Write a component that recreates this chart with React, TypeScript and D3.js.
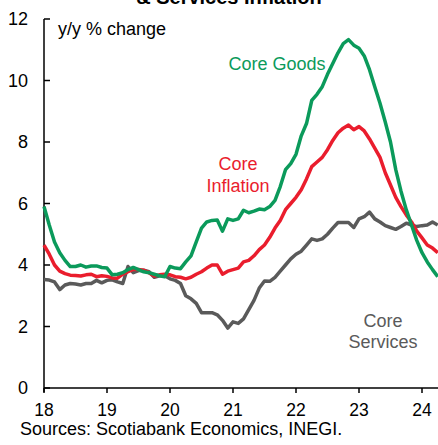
import React from "react";
import * as d3 from "d3";

const startYear = 2018;
const coreGoods = [
  5.9, 5.3, 4.75, 4.4, 4.15, 3.95, 3.95, 4.0, 3.93, 3.97, 3.97, 3.92,
  3.9, 3.68, 3.7, 3.75, 3.85, 3.92, 3.85, 3.78, 3.75, 3.7, 3.65, 3.62,
  3.95, 3.9, 3.88, 4.1, 4.3, 4.75, 5.2, 5.4, 5.45, 5.46, 5.1, 5.5,
  5.45, 5.5, 5.78, 5.7, 5.75, 5.82, 5.8, 5.9, 6.1, 6.55, 7.1, 7.3,
  7.6, 8.2, 8.6, 9.35, 9.55, 9.8, 10.2, 10.55, 10.9, 11.2, 11.33, 11.15,
  11.05, 10.8, 10.35, 9.8, 9.26, 8.65, 8.0, 7.1, 6.4, 5.8, 5.3, 4.8,
  4.4, 4.1, 3.85, 3.62,
];
const coreInflation = [
  4.65, 4.35, 4.0, 3.8, 3.72, 3.67, 3.66, 3.64, 3.68, 3.7, 3.62, 3.65,
  3.63, 3.58, 3.57, 3.7, 3.78, 3.86, 3.85, 3.83, 3.75, 3.64, 3.68, 3.7,
  3.68, 3.62, 3.6, 3.55, 3.6, 3.7, 3.78, 3.9, 4.0, 4.0, 3.7, 3.8,
  3.85, 3.9, 4.1, 4.15, 4.3, 4.5, 4.65, 4.9, 5.2, 5.45, 5.8, 6.0,
  6.2, 6.45, 6.8, 7.2, 7.35, 7.5, 7.75, 8.05, 8.3, 8.45, 8.55, 8.4,
  8.5, 8.36, 8.1, 7.8, 7.5, 7.0, 6.6, 6.2, 5.9, 5.63, 5.4, 5.1,
  4.88, 4.65, 4.55, 4.4,
];
const coreServices = [
  3.53, 3.51, 3.45, 3.2, 3.35, 3.4, 3.38, 3.35, 3.4, 3.4, 3.5, 3.42,
  3.5, 3.52, 3.45, 3.4, 3.95, 3.75, 3.82, 3.83, 3.78, 3.6, 3.65, 3.65,
  3.55, 3.5, 3.4, 3.0, 2.9, 2.75, 2.45, 2.45, 2.45, 2.38, 2.2, 1.95,
  2.15, 2.1, 2.25, 2.55, 2.85, 3.25, 3.48, 3.47, 3.6, 3.8, 4.0, 4.2,
  4.35, 4.45, 4.65, 4.85, 4.8, 4.85, 5.0, 5.2, 5.38, 5.38, 5.38, 5.22,
  5.5, 5.57, 5.72, 5.5, 5.4, 5.28, 5.22, 5.16, 5.25, 5.36, 5.3, 5.25,
  5.28, 5.3, 5.4, 5.3,
];
const yTicks = [0, 2, 4, 6, 8, 10, 12];
const xTickYears = [2018, 2019, 2020, 2021, 2022, 2023, 2024];

const FONT = "'Liberation Sans', Arial, sans-serif";

export default function App() {
  const x = d3
    .scaleLinear()
    .domain([startYear, startYear + 6])
    .range([44, 422]);
  const y = d3.scaleLinear().domain([0, 12]).range([388, 19]);

  const toPoints = (arr: number[]) =>
    arr.map((v, i) => [startYear + i / 12, v] as [number, number]);

  const line = d3
    .line<[number, number]>()
    .x((d) => x(d[0]))
    .y((d) => y(d[1]));

  const series = [
    { data: coreServices, color: "#5a5a5a" },
    { data: coreInflation, color: "#ea1d2d" },
    { data: coreGoods, color: "#0b9a5b" },
  ];

  return (
    <svg
      width={438}
      height={445}
      style={{ position: "absolute", left: 0, top: 0, background: "#fff" }}
      fontFamily={FONT}
    >
      <text
        x={229}
        y={4}
        textAnchor="middle"
        fontSize={20}
        fontWeight="bold"
        fill="#000"
      >
        & Services Inflation
      </text>

      {/* axes */}
      <line x1={44} x2={44} y1={y(12)} y2={392} stroke="#000" strokeWidth={1.5} />
      <line x1={44} x2={438} y1={y(0)} y2={y(0)} stroke="#000" strokeWidth={1.5} />
      {yTicks.map((t) => (
        <g key={t}>
          <line x1={44} x2={50} y1={y(t)} y2={y(t)} stroke="#000" strokeWidth={1.5} />
          <text x={28} y={y(t) + 6} textAnchor="end" fontSize={18} fill="#000">
            {t}
          </text>
        </g>
      ))}
      {xTickYears.map((yr) => (
        <g key={yr}>
          <line x1={x(yr)} x2={x(yr)} y1={y(0)} y2={y(0) + 5} stroke="#000" strokeWidth={1.5} />
          <text x={x(yr)} y={416} textAnchor="middle" fontSize={17.5} fill="#000">
            {String(yr).slice(2)}
          </text>
        </g>
      ))}

      {series.map((s, i) => (
        <path
          key={i}
          d={line(toPoints(s.data)) || ""}
          fill="none"
          stroke={s.color}
          strokeWidth={3.5}
          strokeLinejoin="round"
        />
      ))}

      <text x={58} y={35} fontSize={18} fill="#000">
        y/y % change
      </text>
      <text x={277} y={70} textAnchor="middle" fontSize={18} fill="#0b9a5b">
        Core Goods
      </text>
      <text x={238} y={170} textAnchor="middle" fontSize={18} fill="#ea1d2d">
        Core
      </text>
      <text x={238} y={192} textAnchor="middle" fontSize={18} fill="#ea1d2d">
        Inflation
      </text>
      <text x={383} y={327} textAnchor="middle" fontSize={18} fill="#5a5a5a">
        Core
      </text>
      <text x={383} y={348} textAnchor="middle" fontSize={18} fill="#5a5a5a">
        Services
      </text>

      <text x={20} y={435} fontSize={18} fill="#000">
        Sources: Scotiabank Economics, INEGI.
      </text>
    </svg>
  );
}
